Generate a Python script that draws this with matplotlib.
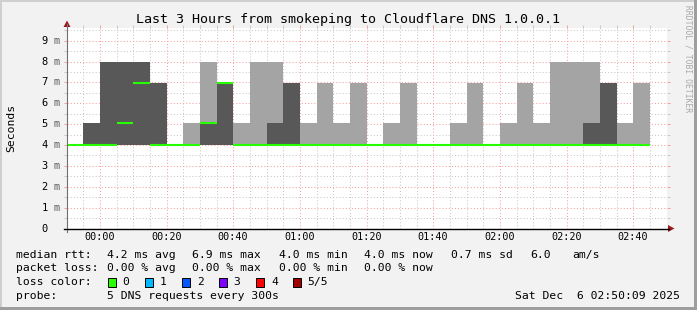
import matplotlib
matplotlib.use("Agg")
import matplotlib.pyplot as plt
import matplotlib.transforms as mtransforms
from matplotlib.patches import Polygon, Rectangle

W, H = 697, 310

# 5 minute slots (start time), values in ms
slot_labels = ["23:50", "23:55", "00:00", "00:05", "00:10", "00:15", "00:20",
               "00:25", "00:30", "00:35", "00:40", "00:45", "00:50", "00:55",
               "01:00", "01:05", "01:10", "01:15", "01:20", "01:25", "01:30",
               "01:35", "01:40", "01:45", "01:50", "01:55", "02:00", "02:05",
               "02:10", "02:15", "02:20", "02:25", "02:30", "02:35", "02:40"]
low_ms = [4.0] * 35
smoke_max_ms = [4.0, 5.05, 8.0, 8.0, 8.0, 6.95, 4.0, 5.05, 8.0, 6.95, 5.05,
                8.0, 8.0, 6.95, 5.05, 6.95, 5.05, 6.95, 4.0, 5.05, 6.95, 4.0,
                4.0, 5.05, 6.95, 4.0, 5.05, 6.95, 5.05, 8.0, 8.0, 8.0, 6.95,
                5.05, 6.95]
smoke_inner_ms = [4.0, 5.05, 8.0, 8.0, 8.0, 6.95, 4.0, 4.0, 5.05, 6.95, 4.0,
                  4.0, 5.05, 6.95, 4.0, 4.0, 4.0, 4.0, 4.0, 4.0, 4.0, 4.0,
                  4.0, 4.0, 4.0, 4.0, 4.0, 4.0, 4.0, 4.0, 4.0, 5.05, 6.95,
                  4.0, 4.0]
median_ms = [4.0, 4.0, 4.0, 5.05, 6.95, 4.0, 4.0, 4.0, 5.05, 6.95, 4.0,
             4.0, 4.0, 4.0, 4.0, 4.0, 4.0, 4.0, 4.0, 4.0, 4.0, 4.0,
             4.0, 4.0, 4.0, 4.0, 4.0, 4.0, 4.0, 4.0, 4.0, 4.0, 4.0,
             4.0, 4.0]

xtick_labels = ["00:00", "00:20", "00:40", "01:00", "01:20", "01:40",
                "02:00", "02:20", "02:40"]
ytick_values = [0, 1, 2, 3, 4, 5, 6, 7, 8, 9]

legend_rows = [
    [("median rtt:", 16), ("4.2 ms avg", 107), ("6.9 ms max", 192.5),
     ("4.0 ms min", 279), ("4.0 ms now", 364.5), ("0.7 ms sd", 451),
     ("6.0", 530), ("am/s", 572)],
    [("packet loss:", 16), ("0.00 % avg", 107), ("0.00 % max", 192.5),
     ("0.00 % min", 279), ("0.00 % now", 364.5)],
]
loss_labels = ["0", "1", "2", "3", "4", "5/5"]
loss_colors = ["#26ff00", "#00b8ff", "#0059ff", "#7e00ff", "#ff0000", "#a10000"]


def to_min(s):
    h, m = map(int, s.split(":"))
    t = h * 60 + m
    return t - 1440 if h >= 12 else t


def fx(x):
    return x / W


def fy(y):
    return 1 - y / H


starts = [to_min(s) for s in slot_labels]
edges = starts + [starts[-1] + 5]
ends = edges[1:]

mono = "DejaVu Sans Mono"
fig = plt.figure(figsize=(W / 100, H / 100), dpi=100, facecolor="#f2f2f2")

# frame shading
fig.patches.append(Rectangle((0, fy(2)), 1, 2 / H, transform=fig.transFigure, color="#cfcfcf", lw=0))
fig.patches.append(Rectangle((0, 0), 2 / W, 1, transform=fig.transFigure, color="#cfcfcf", lw=0))
fig.patches.append(Rectangle((0, 0), 1, 3 / H, transform=fig.transFigure, color="#9e9e9e", lw=0))
fig.patches.append(Rectangle((fx(W - 3), 0), 3 / W, 1, transform=fig.transFigure, color="#9e9e9e", lw=0))

y0, y1 = 228.5, 28
x0, x1 = 67, 667
ax = fig.add_axes([fx(x0), fy(y0), (x1 - x0) / W, (y0 - y1) / H])
ax.set_facecolor("white")
ax.set_xlim(-9.85, 170.15)
ax.set_ylim(0, (y0 - y1) / 20.87)
for s in ax.spines.values():
    s.set_visible(False)

# grid
maj_x = [to_min(s) for s in xtick_labels]
ax.set_xticks(maj_x)
ax.set_xticks([m for m in range(-5, 170, 5) if m not in maj_x], minor=True)
ax.set_yticks(ytick_values)
ax.set_yticks([v + 0.5 for v in ytick_values], minor=True)
ax.grid(which="minor", color="#c8c8c8", ls=(0, (1, 2)), lw=0.75)
ax.grid(which="major", color="#f4a0a0", ls=(0, (1, 2)), lw=0.75)
ax.set_axisbelow(True)
ax.tick_params(which="both", labelbottom=False, labelleft=False,
               top=True, right=True, bottom=False, direction="out", length=2, width=0.7)
ax.tick_params(which="major", color="#f4a0a0")
ax.tick_params(which="minor", color="#c8c8c8")

# smoke
ax.stairs(smoke_max_ms, edges, baseline=low_ms, fill=True, color="#a4a4a4", lw=0, zorder=2)
ax.stairs(smoke_inner_ms, edges, baseline=low_ms, fill=True, color="#585858", lw=0, zorder=3)
ax.hlines(median_ms, starts, ends, colors="#26ff00", lw=1.5, zorder=4, capstyle="butt")

# axes lines + arrows
fig.add_artist(plt.Line2D([fx(x0), fx(x0)], [fy(y0 + 3), fy(24)], color="#707070", lw=0.8))
fig.add_artist(plt.Line2D([fx(x0 - 3), fx(669)], [fy(y0), fy(y0)], color="black", lw=1.0))
fig.patches.append(Polygon([(fx(63.5), fy(27)), (fx(70.5), fy(27)), (fx(67), fy(20.5))],
                           closed=True, transform=fig.transFigure, color="#9a1c1c", lw=0))
fig.patches.append(Polygon([(fx(668), fy(225)), (fx(668), fy(232)), (fx(674.5), fy(y0))],
                           closed=True, transform=fig.transFigure, color="#9a1c1c", lw=0))

# tick labels
bx = mtransforms.blended_transform_factory(ax.transData, fig.transFigure)
for t, lab in zip(maj_x, xtick_labels):
    ax.text(t, fy(237.3), lab, transform=bx, ha="center", va="center",
            family=mono, fontsize=7.3)
by = mtransforms.blended_transform_factory(fig.transFigure, ax.transData)
for v in ytick_values:
    ax.text(fx(47.8), v, str(v), transform=by, ha="right", va="center",
            family=mono, fontsize=7.5)
    if v != 0:
        ax.text(fx(54), v, "m", transform=by, ha="left", va="center",
                family=mono, fontsize=7.3, color="#606060")

fig.text(fx(11), fy(128), "Seconds", rotation=90, ha="center", va="center",
         family=mono, fontsize=8.2)
fig.text(fx(348), fy(19.3), "Last 3 Hours from smokeping to Cloudflare DNS 1.0.0.1",
         ha="center", va="center", family=mono, fontsize=9.6)
fig.text(fx(688), fy(5), "RRDTOOL / TOBI OETIKER", rotation=270, ha="center",
         va="top", family=mono, fontsize=5.8, color="#a8a8a8")

# legend
for row, yy in zip(legend_rows, [254.7, 268.3]):
    for txt, xx in row:
        fig.text(fx(xx), fy(yy), txt, ha="left", va="center", family=mono, fontsize=8.2)
fig.text(fx(16), fy(282.3), "loss color:", ha="left", va="center", family=mono, fontsize=8.2)
box_x = [108, 145.3, 182.2, 219.1, 256.4, 292.9]
for bxp, lab, col in zip(box_x, loss_labels, loss_colors):
    fig.patches.append(Rectangle((fx(bxp), fy(286.5)), 8 / W, 8.5 / H,
                                 transform=fig.transFigure, facecolor=col,
                                 edgecolor="black", lw=0.7))
    fig.text(fx(bxp + 14.5), fy(282.3), lab, ha="left", va="center", family=mono, fontsize=8.2)
fig.text(fx(16), fy(296), "probe:", ha="left", va="center", family=mono, fontsize=8.2)
fig.text(fx(107), fy(296), "5 DNS requests every 300s", ha="left", va="center",
         family=mono, fontsize=8.2)
fig.text(fx(680), fy(296), "Sat Dec  6 02:50:09 2025", ha="right", va="center",
         family=mono, fontsize=8.2)

fig.savefig("out.png", dpi=100, facecolor=fig.get_facecolor())
